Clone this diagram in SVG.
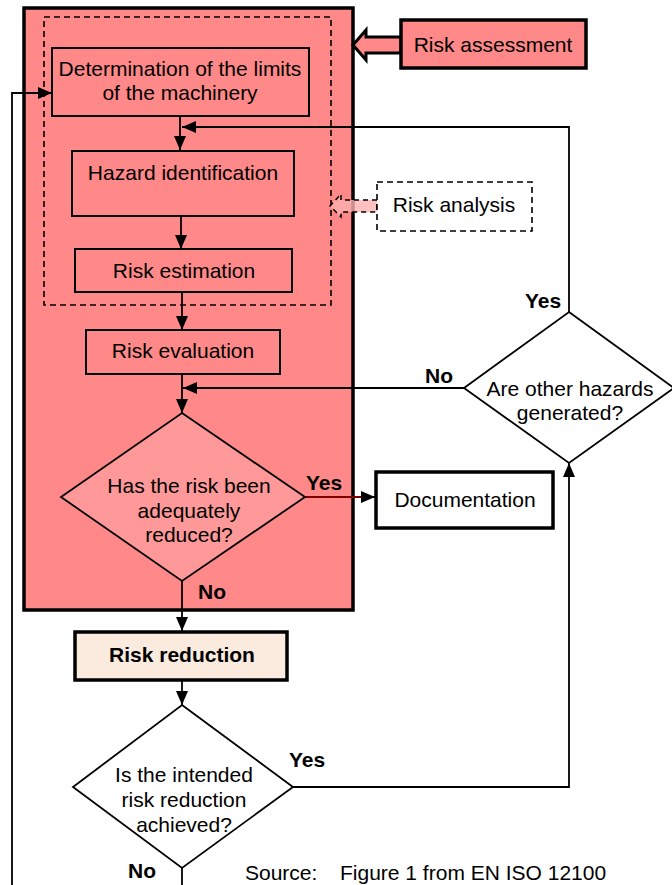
<svg xmlns="http://www.w3.org/2000/svg" width="672" height="885" viewBox="0 0 672 885">
<defs>
<style>
text{font-family:"Liberation Sans",Arial,sans-serif;font-size:21px;fill:#000}
.c{text-anchor:middle}
.b{font-weight:bold}
.box{fill:#FF8888;stroke:#000;stroke-width:2}
.ln{fill:none;stroke:#000;stroke-width:1.8}
</style>
<marker id="ah" markerUnits="userSpaceOnUse" markerWidth="14" markerHeight="12" refX="14" refY="6" orient="auto">
<path d="M0,0 L14,6 L0,12 z" fill="#000"/>
</marker>
</defs>
<rect width="672" height="885" fill="#fff"/>

<g id="risk-assessment-area">
<rect x="24" y="8" width="329" height="602" fill="#FF8888" stroke="#000" stroke-width="3.5"/>
<rect x="44" y="17" width="287" height="288" fill="none" stroke="#000" stroke-width="1.6" stroke-dasharray="6,4"/>
</g>

<g id="connectors">
<path class="ln" d="M180,116 V150" marker-end="url(#ah)"/>
<path class="ln" d="M569,312 V127 H182" marker-end="url(#ah)"/>
<path class="ln" d="M181,216 V249" marker-end="url(#ah)"/>
<path class="ln" d="M182,292 V330" marker-end="url(#ah)"/>
<path class="ln" d="M182,374 V413" marker-end="url(#ah)"/>
<path class="ln" d="M464,388 H183" marker-end="url(#ah)"/>
<path d="M305,497 H362" fill="none" stroke="#800000" stroke-width="1.8"/>
<path class="ln" d="M361,497 H375" marker-end="url(#ah)"/>
<path class="ln" d="M182,581 V631" marker-end="url(#ah)"/>
<path class="ln" d="M182,680 V705" marker-end="url(#ah)"/>
<path class="ln" d="M293,787 H569 V463" marker-end="url(#ah)"/>
<path class="ln" d="M182,868 V885"/>
<path class="ln" d="M12,885 V93 H52" marker-end="url(#ah)"/>
<polygon points="401,37 366,37 366,30 353,45 366,60 366,53 401,53" fill="#FF8888" stroke="#000" stroke-width="3" stroke-linejoin="miter"/>
<polygon points="377,200 341,200 341,194 330,206 341,217 341,212 377,212" fill="#FFB0B0" fill-opacity="0.8" stroke="#000" stroke-width="1.5" stroke-dasharray="5,4"/>
</g>

<g id="risk-assessment">
<rect x="401" y="20" width="185" height="48" fill="#FF8888" stroke="#000" stroke-width="3.5"/>
<text class="c" x="493" y="52">Risk assessment</text>
</g>

<g id="limits">
<rect class="box" x="52" y="48" width="257" height="68"/>
<text class="c" x="180" y="76">Determination of the limits</text>
<text class="c" x="180" y="100">of the machinery</text>
</g>

<g id="hazard-identification">
<rect class="box" x="72" y="151" width="222" height="65"/>
<text class="c" x="183" y="180">Hazard identification</text>
</g>

<g id="risk-analysis">
<rect x="377" y="182" width="155" height="49" fill="#fff" stroke="#000" stroke-width="1.6" stroke-dasharray="6,4"/>
<text class="c" x="454" y="212">Risk analysis</text>
</g>

<g id="risk-estimation">
<rect class="box" x="75" y="249" width="217" height="43"/>
<text class="c" x="184" y="278">Risk estimation</text>
</g>

<g id="risk-evaluation">
<rect class="box" x="86" y="330" width="194" height="44"/>
<text class="c" x="183" y="358">Risk evaluation</text>
</g>

<g id="adequately-reduced">
<polygon points="182,413 305,497 182,581 61,497" fill="#FF9999" stroke="#000" stroke-width="1.8"/>
<text class="c" x="189" y="493">Has the risk been</text>
<text class="c" x="189" y="518">adequately</text>
<text class="c" x="189" y="542">reduced?</text>
<text class="b" x="306" y="490">Yes</text>
<text class="b" x="198" y="599">No</text>
</g>

<g id="other-hazards">
<polygon points="569,312 674,388 569,463 464,388" fill="#fff" stroke="#000" stroke-width="1.8"/>
<text class="c" x="570" y="396">Are other hazards</text>
<text class="c" x="570" y="420">generated?</text>
<text class="b" x="525" y="308">Yes</text>
<text class="b" x="425" y="383">No</text>
</g>

<g id="documentation">
<rect x="376" y="472" width="177" height="56" fill="#fff" stroke="#000" stroke-width="3.5"/>
<text class="c" x="465" y="507">Documentation</text>
</g>

<g id="risk-reduction">
<rect x="75" y="632" width="212" height="48" fill="#FBEBDF" stroke="#000" stroke-width="3.5"/>
<text class="c b" x="182" y="662">Risk reduction</text>
</g>

<g id="intended-reduction">
<polygon points="182,705 293,787 182,868 73,787" fill="#fff" stroke="#000" stroke-width="1.8"/>
<text class="c" x="184" y="782">Is the intended</text>
<text class="c" x="184" y="807">risk reduction</text>
<text class="c" x="184" y="832">achieved?</text>
<text class="b" x="289" y="767">Yes</text>
<text class="b" x="128" y="878">No</text>
</g>

<g id="source">
<text x="245" y="880">Source:</text>
<text x="340" y="880">Figure 1 from EN ISO 12100</text>
</g>
</svg>
